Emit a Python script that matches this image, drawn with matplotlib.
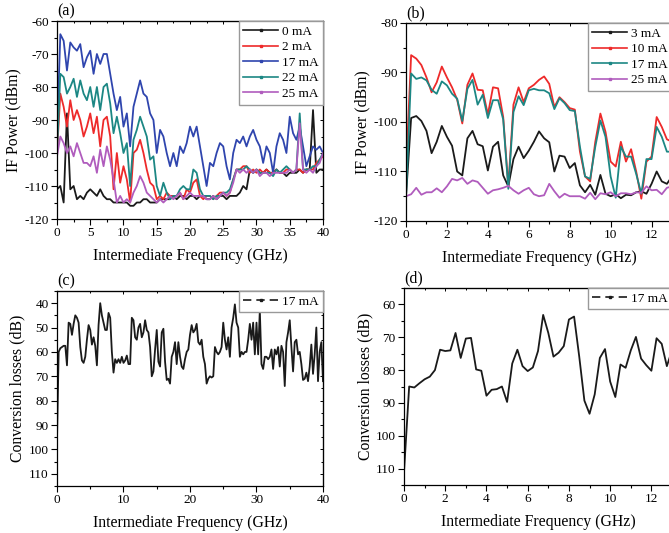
import numpy as np
import matplotlib.pyplot as plt
from matplotlib.lines import Line2D
from matplotlib.ticker import MultipleLocator

plt.rcParams['font.family'] = ['Liberation Serif', 'DejaVu Serif']
plt.rcParams['axes.unicode_minus'] = False

# (a) IF power vs frequency, 0-40 GHz, 0.5 GHz step
freq_a = np.arange(0, 40.01, 0.5)
a_0mA = [-111, -110, -115, -88, -111, -110, -114, -113, -114, -112, -111, -112, -113, -111, -113, -114,
         -114, -115, -115, -115, -115, -115, -116, -116, -115, -115, -114, -114, -115, -115, -115, -114,
         -114, -114, -114, -113, -114, -113, -113, -114, -113, -113, -114, -113, -113, -114, -114, -113,
         -114, -113, -113, -114, -113, -113, -113, -112, -110, -111, -105, -106, -105, -106, -106, -105,
         -106, -106, -105, -106, -106, -107, -106, -106, -106, -105, -106, -105, -105, -87, -106, -105, -105]
a_2mA = [-100, -82, -86, -92, -84, -90, -87, -90, -95, -92, -88, -94, -89, -98, -90, -89,
         -95, -111, -100, -109, -104, -108, -115, -100, -99, -96, -100, -105, -109, -110, -114, -113,
         -114, -112, -113, -113, -113, -112, -114, -111, -112, -109, -108, -113, -114, -113, -113, -114,
         -113, -112, -112, -113, -112, -108, -105, -105, -104, -104, -106, -105, -106, -105, -106, -105,
         -106, -106, -105, -106, -106, -105, -105, -106, -105, -105, -106, -105, -105, -105, -103, -102, -101]
a_17mA = [-95, -64, -66, -75, -66.5, -68, -69, -67, -74, -71, -69, -76, -70, -73, -70, -70,
          -76, -82, -87, -83, -92, -88, -98, -86, -82, -78, -82, -83, -88, -90, -100, -93,
          -95, -100, -104, -100, -104, -98, -100, -97, -92, -95, -92, -98, -104, -110, -103, -104,
          -100, -97, -98, -104, -108, -100, -96, -97, -95, -98, -95, -93, -96, -98, -103, -98,
          -100, -106, -98, -94, -96, -100, -89, -94, -96, -92, -98, -104, -101, -98, -99, -98, -100]
a_22mA = [-100, -76, -77, -82, -80, -77.5, -83, -78, -82, -84, -80, -86, -80, -87, -80, -79,
          -85, -94, -89, -94, -100, -97, -110, -96, -93, -89, -92, -95, -102, -101, -110, -113,
          -109, -112, -114, -113, -113, -111, -110, -111, -111, -105, -106, -111, -113, -113, -113, -114,
          -113, -113, -112, -112, -111, -108, -105, -105, -105, -104, -105, -106, -105, -106, -106, -106,
          -106, -107, -105, -106, -105, -104, -105, -106, -105, -88, -105, -105, -105, -104, -104, -102, -100]
a_25mA = [-101, -95, -97, -100, -98, -101, -97, -100, -103, -103, -104, -101, -106, -99, -104, -98,
          -102, -108, -115, -113, -115, -114, -115, -112, -110, -107, -109, -112, -113, -114, -115, -114,
          -115, -114, -113, -114, -113, -112, -114, -113, -112, -113, -113, -113, -113, -114, -114, -113,
          -114, -113, -112, -113, -112, -109, -105, -106, -105, -106, -105, -106, -105, -107, -106, -106,
          -107, -106, -106, -106, -106, -106, -105, -106, -105, -91, -105, -106, -105, -106, -104, -103, -100]

# (b) IF power vs frequency, 0-13 GHz, 0.25 GHz step
freq_b = np.arange(0, 13.01, 0.25)
b_3mA = [-115, -99.2, -98.8, -99.8, -101.8, -106.3, -104, -100.8, -103, -104.8, -110, -110.8, -103.3,
         -101.8, -104.5, -104.9, -109.8, -105, -104, -110.8, -113, -107.5, -105, -107.3, -105.8, -104,
         -101.9, -103.3, -104.1, -110, -106.8, -107, -109.3, -108.3, -112.8, -114.2, -112.7, -114.7,
         -110.7, -114.5, -115, -114.6, -115.4, -114.7, -114.8, -114.2, -114, -114.5, -112.5, -110, -112,
         -112.5, -111]
b_10mA = [-110, -86.5, -87.2, -88.5, -91, -94, -92, -88.8, -91, -93, -95.5, -100.3, -92.5, -90.2,
          -93.5, -93.6, -98.5, -93, -93.2, -99, -113, -96.5, -93, -96, -93.2, -92.5, -91.5, -90.8, -92.3,
          -97, -95, -96, -97.2, -97.5, -106, -111, -112, -104, -98.3, -102, -108, -109, -104, -108,
          -105.5, -110, -115.5, -108, -107, -99, -101, -103.5, -104]
b_17mA = [-115, -90.2, -91.3, -91, -91.6, -93.5, -94.3, -91.8, -92.6, -94.3, -95.3, -99.8, -93.3,
          -91.5, -96.5, -94.5, -99.2, -95.6, -95.6, -99.5, -113.5, -98, -94.8, -96.6, -93.6, -93.3, -93.6,
          -93.6, -94.2, -97.4, -95.2, -96.2, -97.6, -97.8, -105, -111, -111.5, -105, -99.7, -103, -111,
          -115.3, -105, -107, -107, -110.5, -114.5, -107.5, -107.5, -101, -103, -106, -106]
b_25mA = [-115, -114.6, -113.3, -114.7, -114.2, -114.2, -113.4, -114.2, -113, -111.5, -111.8, -111.3,
          -112.5, -111.8, -112.1, -113.3, -114.5, -113.8, -113.6, -113.3, -112.9, -113.8, -114.5, -113.8,
          -113.3, -114.6, -115, -114.8, -112.5, -114, -115.3, -114.5, -115, -115, -115, -115.5, -114.3,
          -115.6, -114.4, -114.6, -114.2, -115, -114.4, -114.4, -114.6, -114.2, -114.3, -113, -113.8,
          -113.7, -114.6, -113.3, -113]

# (c) conversion losses, 0-40 GHz, 0.25 GHz step
freq_c = np.arange(0, 40.01, 0.25)
c_17mA = [96, 60, 58.5, 58, 57.5, 57.5, 65.5, 48, 48.5, 53, 48.5, 45, 46, 48, 58, 63.5,
          64.5, 62, 55, 49, 51, 57, 54, 57.5, 65.5, 49, 40, 45, 48, 51, 51, 44,
          46, 60, 68.5, 63, 64.5, 63, 64.5, 62, 64.5, 63.5, 61.5, 65, 65, 46, 47, 54,
          55, 50, 48.5, 54, 52, 47, 51, 52, 58, 70, 68, 59, 51, 64, 66, 52,
          50.5, 64, 71.5, 71, 73, 62, 60, 56, 65, 56, 62, 66, 67, 63, 60, 59,
          53, 49, 52, 51, 48.5, 56, 57, 55, 62, 65, 73, 71, 70, 70.5, 70, 58,
          60, 61, 60, 58, 48, 55, 59, 54, 62, 50, 46, 40.5, 48, 50, 62, 60,
          61, 60, 60, 55, 48.5, 55, 48, 61, 48, 61, 43, 65, 67, 62, 62, 63,
          62, 59, 67, 59, 61, 58, 66, 57.5, 60, 74, 56, 52, 47, 58, 68, 56,
          55, 61, 60, 65, 71.5, 71, 68.5, 72, 66, 57, 69, 61, 50, 72, 60, 56, 72]

# (d) conversion losses, 0-13 GHz, 0.25 GHz step
freq_d = np.arange(0, 13.01, 0.25)
d_17mA = [111, 85, 85.3, 84, 82.8, 82, 80, 73.8, 74.2, 74, 68.7, 76.3, 70.4, 70.2, 79.8, 80.2,
          87.8, 86, 85.8, 85, 89.7, 78, 73.8, 78.8, 80.3, 79.2, 74.2, 63.2, 68.7, 75.9, 74.7, 72.7,
          64.6, 63.7, 75.9, 89.3, 93.3, 87.4, 76.3, 73.6, 83.5, 88.2, 78.3, 79.3, 74, 69.9, 76.5, 78.5,
          80.2, 70.3, 72, 78.8, 74]

BLACK = '#1a1a1a'
RED = '#ee2a2a'
BLUE = '#2f45ae'
TEAL = '#1c8784'
PURPLE = '#b05cbd'

fig = plt.figure(figsize=(6.69, 5.33), dpi=100)
ax_a = fig.add_axes([0.0852, 0.5891, 0.3976, 0.3715])
ax_b = fig.add_axes([0.6069, 0.5854, 0.3976, 0.3715])
ax_c = fig.add_axes([0.0852, 0.0882, 0.3976, 0.3659])
ax_d = fig.add_axes([0.6039, 0.0900, 0.4006, 0.3697])

lw = 1.3


def style(ax, xmaj, xmin, ymaj, ymin):
    ax.xaxis.set_major_locator(MultipleLocator(xmaj))
    ax.xaxis.set_minor_locator(MultipleLocator(xmin))
    ax.yaxis.set_major_locator(MultipleLocator(ymaj))
    ax.yaxis.set_minor_locator(MultipleLocator(ymin))
    ax.tick_params(which='both', direction='out', labelsize=9.5, width=0.8, pad=2)
    ax.tick_params(which='major', length=4)
    ax.tick_params(which='minor', length=2.2)
    # short inward ticks mirrored on top and right
    ax2x = ax.secondary_xaxis('top')
    ax2x.xaxis.set_major_locator(MultipleLocator(xmaj))
    ax2x.xaxis.set_minor_locator(MultipleLocator(xmin))
    ax2x.tick_params(which='both', direction='in', labeltop=False, width=0.7)
    ax2x.tick_params(which='major', length=2.5)
    ax2x.tick_params(which='minor', length=1.5)
    ax2y = ax.secondary_yaxis('right')
    ax2y.yaxis.set_major_locator(MultipleLocator(ymaj))
    ax2y.yaxis.set_minor_locator(MultipleLocator(ymin))
    ax2y.tick_params(which='both', direction='in', labelright=False, width=0.7)
    ax2y.tick_params(which='major', length=2.5)
    ax2y.tick_params(which='minor', length=1.5)
    for s in ax.spines.values():
        s.set_linewidth(0.9)
    ax.set_xlabel('Intermediate Frequency (GHz)', fontsize=11.3, labelpad=6)


def handle(color, dashed=False):
    if dashed:
        return Line2D([], [], color=BLACK, lw=1.2, ls=(0, (5, 3)), marker='s', markersize=2)
    return Line2D([], [], color=color, lw=1.2, marker='s', markersize=1.8)


leg_kw = dict(loc='upper right', borderaxespad=0, fontsize=9.5, fancybox=False, framealpha=1,
              edgecolor='#999999', handlelength=2.6, handletextpad=0.3, borderpad=0.35,
              labelspacing=0.25, numpoints=1)

# (a)
for y, c in [(a_0mA, BLACK), (a_2mA, RED), (a_17mA, BLUE), (a_22mA, TEAL), (a_25mA, PURPLE)]:
    ax_a.plot(freq_a, y, color=c, lw=lw)
ax_a.set_xlim(0, 40)
ax_a.set_ylim(-120, -60)
style(ax_a, 5, 2.5, 10, 5)
ax_a.set_ylabel('IF Power (dBm)', fontsize=11.3, labelpad=2)
ax_a.legend([handle(c) for c in (BLACK, RED, BLUE, TEAL, PURPLE)],
            ['0 mA', '2 mA', '17 mA', '22 mA', '25 mA'], **leg_kw)
ax_a.text(0.0, 1.01, '(a)', transform=ax_a.transAxes, fontsize=11.5, va='bottom')

# (b)
for y, c in [(b_3mA, BLACK), (b_10mA, RED), (b_17mA, TEAL), (b_25mA, PURPLE)]:
    ax_b.plot(freq_b, y, color=c, lw=lw)
ax_b.set_xlim(0, 13)
ax_b.set_ylim(-120, -80)
style(ax_b, 2, 1, 10, 5)
ax_b.set_ylabel('IF Power (dBm)', fontsize=11.3, labelpad=2)
ax_b.legend([handle(c) for c in (BLACK, RED, TEAL, PURPLE)],
            ['3 mA', '10 mA', '17 mA', '25 mA'], **leg_kw)
ax_b.text(0.0, 1.01, '(b)', transform=ax_b.transAxes, fontsize=11.5, va='bottom')

# (c)
ax_c.plot(freq_c, c_17mA, color=BLACK, lw=lw)
ax_c.set_xlim(0, 40)
ax_c.set_ylim(115, 35)
style(ax_c, 10, 5, 10, 5)
ax_c.set_ylabel('Conversion losses (dB)', fontsize=11.3, labelpad=2)
ax_c.legend([handle(BLACK, dashed=True)], ['17 mA'], **leg_kw)
ax_c.text(0.0, 1.01, '(c)', transform=ax_c.transAxes, fontsize=11.5, va='bottom')

# (d)
ax_d.plot(freq_d, d_17mA, color=BLACK, lw=lw)
ax_d.set_xlim(0, 13)
ax_d.set_ylim(115, 55)
style(ax_d, 2, 1, 10, 5)
ax_d.set_ylabel('Conversion losses (dB)', fontsize=11.3, labelpad=2)
ax_d.legend([handle(BLACK, dashed=True)], ['17 mA'], **leg_kw)
ax_d.text(0.0, 1.01, '(d)', transform=ax_d.transAxes, fontsize=11.5, va='bottom')

fig.savefig('out.png', dpi=100)
